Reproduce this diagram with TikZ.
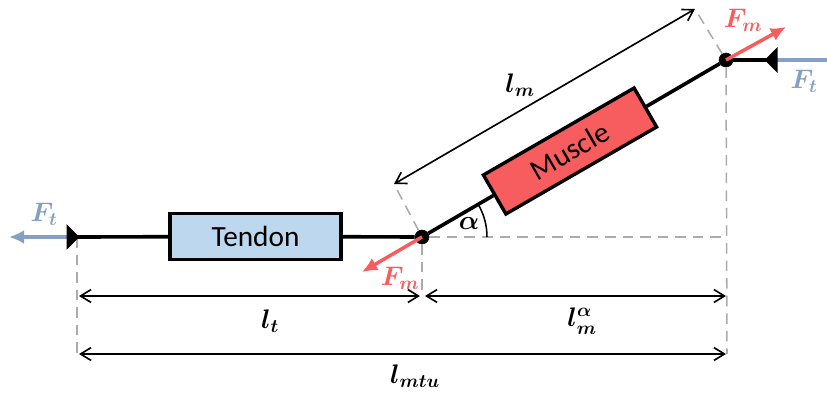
\documentclass[tikz,border=0pt]{standalone}
\usepackage{amssymb}
\usepackage{amsmath}
\usepackage{fontspec}
\usepackage{xcolor}
\setsansfont{Carlito}
\DeclareMathSizes{24.88}{24.88}{17.28}{14.4}
\usetikzlibrary{arrows.meta, positioning, shapes.geometric}
\definecolor{musclered}{HTML}{F75D5F}
\definecolor{tendonblue}{HTML}{BDD7EE}
\definecolor{forceblue}{HTML}{84A0C4}
\definecolor{guidegray}{HTML}{ABABAB}
\tikzset{
    blockbox/.style={draw, line width=2.9pt, inner sep=0pt, font=\sffamily\fontsize{25}{28}\selectfont},
    pin/.style={circle, fill=black, draw, inner sep=0pt, minimum size=12pt},
    stopper/.style={isosceles triangle, isosceles triangle stretches, fill=black, inner sep=0pt, minimum height=11pt, minimum width=22pt, anchor=apex},
    tendonline/.style={line width=3.1pt},
    guide/.style={guidegray, line width=1.3pt, dash pattern=on 9pt off 6pt},
    dimline/.style={{Straight Barb[length=9pt,width=11pt]}-{Straight Barb[length=9pt,width=11pt]}, line width=1.4pt},
    force/.style={-{Latex[length=13pt,width=12pt]}, line width=3pt},
    biglabel/.style={font=\fontsize{24.88}{28}\selectfont, inner sep=0pt, scale=0.92}
}
\begin{document}
\begin{tikzpicture}[x=0.03cm, y=-0.03cm]
    \useasboundingbox (0,0) rectangle (827,394);

    % Nodes
    \node[blockbox, fill=tendonblue, minimum width=171*0.03cm, minimum height=46*0.03cm] (tendon) at (255.5,236.5) {Tendon};
    \node[blockbox, fill=musclered, rotate=30, minimum width=174*0.03cm, minimum height=45*0.03cm] (muscle) at (570,151) {Muscle};
    \node[pin] (joint) at (422,237) {};
    \node[pin] (insert) at (726,60) {};
    \coordinate (origin) at (77,237);
    \coordinate (corner) at (727,237);
    \coordinate (anchorr) at (770,60);
    \coordinate (lowl) at (77,354);
    \coordinate (lowr) at (727,354);
    \coordinate (lowj) at (422,296);
    \coordinate (lmstart) at (394,184);
    \coordinate (lmend) at (695,9);

    % Guides
    \draw[guide] (origin) -- (lowl);
    \draw[guide] (joint) -- (lowj);
    \draw[guide] (insert) -- (lowr);
    \draw[guide] (joint) -- (corner);
    \draw[guide] (joint) -- (lmstart);
    \draw[guide] (insert) -- (lmend);

    % Edges
    \draw[tendonline] (origin) -- (tendon);
    \draw[tendonline] (tendon) -- (joint);
    \draw[tendonline] (joint) -- (muscle);
    \draw[tendonline] (muscle) -- (insert);
    \draw[tendonline] (insert) -- (anchorr);

    % Forces
    \coordinate (fmr) at (786,27);
    \coordinate (fml) at (362,272);
    \coordinate (ftl) at (9,237);
    \coordinate (ftr) at (827,60);
    \coordinate (stoplbase) at (70,237);
    \coordinate (stoprbase) at (775,60);
    \draw[force, forceblue] (stoplbase) -- (ftl);
    \draw[force, forceblue, -] (stoprbase) -- (ftr);
    \draw[force, musclered] (joint.center) -- (fml);
    \draw[force, musclered] (insert.center) -- (fmr);

    % Stoppers
    \node[stopper] (stopl) at (80,237) {};
    \node[stopper, rotate=180] (stopr) at (764,60) {};

    % Dimensions
    \draw[dimline] (79,296) -- (420,296);
    \draw[dimline] (425,296) -- (726,296);
    \draw[dimline] (79,354) -- (726,354);
    \draw[dimline] (lmstart) -- (lmend);

    % Angle
    \draw[line width=1.3pt] (487,237) arc[start angle=0, end angle=-30, radius=65];

    % Labels
    \node[biglabel] (alpha) at (469,224) {$\boldsymbol{\alpha}$};
    \node[biglabel] (lm) at (520,85) {$\boldsymbol{l_m}$};
    \node[biglabel] (lt) at (270,321) {$\boldsymbol{l_t}$};
    \node[biglabel] (lma) at (582,321) {$\boldsymbol{l_m^{\alpha}}$};
    \node[biglabel] (lmtu) at (415,376) {$\boldsymbol{l_{mtu}}$};
    \node[biglabel, text=musclered] (fmtop) at (743,20) {$\boldsymbol{F_m}$};
    \node[biglabel, text=musclered] (fmlow) at (400,278) {$\boldsymbol{F_m}$};
    \node[biglabel, text=forceblue] (fttop) at (804,81) {$\boldsymbol{F_t}$};
    \node[biglabel, text=forceblue] (ftlow) at (44,214) {$\boldsymbol{F_t}$};
\end{tikzpicture}
\end{document}
